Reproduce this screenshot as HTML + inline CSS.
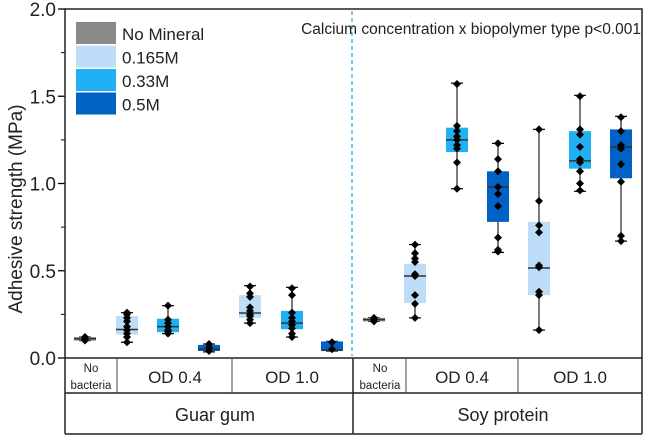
<!DOCTYPE html>
<html><head><meta charset="utf-8"><style>
body{margin:0;background:#fff;}
svg{display:block;font-family:"Liberation Sans",sans-serif;}
</style></head><body>
<svg id="chart" width="646" height="437" viewBox="0 0 646 437"></svg>
<script>
const groupNames=["GG-none","GG-OD04-0.165","GG-OD04-0.33","GG-OD04-0.5","GG-OD10-0.165","GG-OD10-0.33","GG-OD10-0.5","SP-none","SP-OD04-0.165","SP-OD04-0.33","SP-OD04-0.5","SP-OD10-0.165","SP-OD10-0.33","SP-OD10-0.5"];
const groupSlot=[0,1,2,3,4,5,6,7,8,9,10,11,12,13];
const groupConc=["none","0.165","0.33","0.5","0.165","0.33","0.5","none","0.165","0.33","0.5","0.165","0.33","0.5"];
const boxQ1=[0.10,0.134,0.148,0.04,0.23,0.165,0.04,0.21,0.315,1.18,0.78,0.36,1.085,1.03];
const boxMedian=[0.11,0.163,0.18,0.05,0.258,0.20,0.045,0.22,0.47,1.25,0.98,0.516,1.13,1.21];
const boxQ3=[0.12,0.24,0.225,0.075,0.36,0.27,0.095,0.23,0.54,1.32,1.07,0.78,1.30,1.31];
const whiskLo=[0.10,0.09,0.14,0.035,0.20,0.12,0.04,0.21,0.23,0.97,0.605,0.16,0.955,0.67];
const whiskHi=[0.12,0.26,0.30,0.08,0.415,0.405,0.095,0.23,0.65,1.575,1.23,1.31,1.505,1.385];
const points=[
[0.10,0.11,0.12],
[0.26,0.25,0.23,0.21,0.18,0.16,0.14,0.12,0.09],
[0.30,0.22,0.20,0.18,0.16,0.15,0.14],
[0.08,0.06,0.04],
[0.41,0.37,0.35,0.29,0.27,0.25,0.24,0.22,0.20],
[0.40,0.36,0.26,0.23,0.21,0.19,0.17,0.14,0.12],
[0.09,0.05],
[0.21,0.22,0.23],
[0.65,0.60,0.57,0.55,0.48,0.47,0.36,0.31,0.23],
[1.57,1.33,1.30,1.27,1.25,1.22,1.20,1.12,0.97],
[1.23,1.14,1.07,0.98,0.94,0.87,0.69,0.62,0.61],
[1.31,0.90,0.76,0.72,0.53,0.52,0.38,0.36,0.16],
[1.50,1.31,1.28,1.21,1.14,1.12,1.07,1.00,0.96],
[1.38,1.30,1.22,1.20,1.11,1.01,0.70,0.67]
];
const yTicks=[0,0.5,1.0,1.5,2.0];
const yTickLabels=["0.0","0.5","1.0","1.5","2.0"];
const yMinorTicks=[0.25,0.75,1.25,1.75];
const legendConcs=["none","0.165","0.33","0.5"];
const legendLabels=["No Mineral","0.165M","0.33M","0.5M"];

const colorByConc={"none":"#8a8a8a","0.165":"#bcdcf8","0.33":"#22b0f5","0.5":"#0062c4"};
const NS="http://www.w3.org/2000/svg";
const svg=document.getElementById('chart');
const L=65,R=642,T=9,B=358;
const slotX=[85,127,168,209,250,292,332,374,415,457,498,539,580,621];
function y(v){return B-(v/2.0)*(B-T);}
function x(slot){return slotX[slot];}
function mk(tag,attrs,parent){const e=document.createElementNS(NS,tag);for(const k in attrs)e.setAttribute(k,attrs[k]);(parent||svg).appendChild(e);return e;}

yTicks.forEach((t,i)=>{
  const g=mk('g',{});
  
  
  mk('line',{x1:L-7,x2:L,y1:y(t),y2:y(t),stroke:'#000','stroke-width':1.3},g);
  const tx=mk('text',{x:L-9,y:y(t)+7,'text-anchor':'end','font-size':19,fill:'#222'},g);
  tx.textContent=yTickLabels[i];
});
yMinorTicks.forEach(t=>{
  const l=mk('line',{x1:L-4,x2:L,y1:y(t),y2:y(t),stroke:'#000','stroke-width':1});
  
  
});
const yt=mk('text',{x:0,y:0,transform:'translate(22,209) rotate(-90)','text-anchor':'middle','font-size':19,fill:'#222'});


yt.textContent='Adhesive strength (MPa)';

const ds=mk('line',{x1:352,x2:352,y1:11,y2:356,stroke:'#22a0e0','stroke-width':1.2,'stroke-dasharray':'4,3'});



groupNames.forEach((n,i)=>{
  const g=mk('g',{});
  
  
  const cx=x(groupSlot[i]),w=22;
  mk('line',{x1:cx,x2:cx,y1:y(whiskHi[i]),y2:y(whiskLo[i]),stroke:'#333','stroke-width':1.3},g);
  mk('line',{x1:cx-6,x2:cx+6,y1:y(whiskHi[i]),y2:y(whiskHi[i]),stroke:'#111','stroke-width':1.3},g);
  mk('line',{x1:cx-6,x2:cx+6,y1:y(whiskLo[i]),y2:y(whiskLo[i]),stroke:'#111','stroke-width':1.3},g);
  mk('rect',{x:cx-w/2,y:y(boxQ3[i]),width:w,height:Math.max(2,y(boxQ1[i])-y(boxQ3[i])),fill:colorByConc[groupConc[i]]},g);
  mk('line',{x1:cx-w/2,x2:cx+w/2,y1:y(boxMedian[i]),y2:y(boxMedian[i]),stroke:'#333','stroke-width':1.5},g);
  points[i].forEach(p=>{
    const py=y(p);
    const d=mk('polygon',{points:`${cx},${py-4} ${cx+4},${py} ${cx},${py+4} ${cx-4},${py}`,fill:'#000'},g);
    
    
  });
});

const fr=mk('rect',{x:L,y:T,width:R-L,height:B-T,fill:'none',stroke:'#222','stroke-width':1.5});



const lg=mk('g',{});


legendConcs.forEach((c,i)=>{
  const e=mk('g',{},lg);
  
  
  mk('rect',{x:76,y:22+i*23.5,width:40,height:22,fill:colorByConc[c]},e);
  const t=mk('text',{x:122,y:40+i*23.5,'font-size':17,fill:'#222'},e);
  t.textContent=legendLabels[i];
});
const an=mk('text',{x:641,y:34,'text-anchor':'end','font-size':15.5,fill:'#222'});


an.textContent='Calcium concentration x biopolymer type p<0.001';

const tb=mk('g',{});


const st={stroke:'#222','stroke-width':1.5};
mk('line',Object.assign({x1:L,x2:L,y1:B,y2:434},st),tb);
mk('line',Object.assign({x1:R,x2:R,y1:B,y2:434},st),tb);
mk('line',Object.assign({x1:L,x2:R,y1:393,y2:393},st),tb);
mk('line',Object.assign({x1:L,x2:R,y1:434,y2:434},st),tb);
mk('line',Object.assign({x1:353,x2:353,y1:B,y2:434},st),tb);
[117,232,406,518].forEach(vx=>mk('line',{x1:vx,x2:vx,y1:B,y2:393,stroke:'#444','stroke-width':1},tb));
function cell(tx,cx,cy,fs,name){const t=mk('text',{x:cx,y:cy,'text-anchor':'middle','font-size':fs,fill:'#222'},tb);t.textContent=tx;}
cell('No',91,372,11.5,'label-no-bacteria');cell('bacteria',91,389,11.5,'label-no-bacteria');
cell('OD 0.4',175,383,17,'label-od04');cell('OD 1.0',292,383,17,'label-od10');
cell('No',380,372,11.5,'label-no-bacteria');cell('bacteria',380,389,11.5,'label-no-bacteria');
cell('OD 0.4',462,383,17,'label-od04');cell('OD 1.0',580,383,17,'label-od10');
cell('Guar gum',215,421,18,'label-guar-gum');cell('Soy protein',503,421,18,'label-soy-protein');
</script>
</body></html>
